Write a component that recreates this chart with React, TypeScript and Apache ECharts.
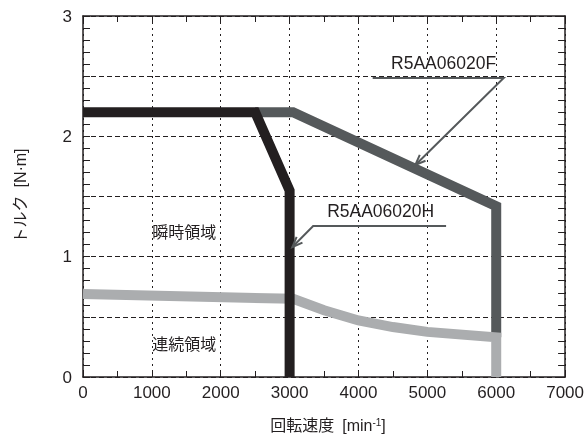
import React, { useEffect, useRef } from "react";
import * as echarts from "echarts";

// Axis ranges
const X_MIN = 0;
const X_MAX = 7000;
const X_STEP = 1000;
const Y_MIN = 0;
const Y_MAX = 3;
const Y_STEP = 0.5;
const yTickLabels = [0, 1, 2, 3];

// Series: [speed min-1, torque N·m]
const peakH: [number, number][] = [
  [0, 2.2],
  [2500, 2.2],
  [3000, 1.55],
  [3000, 0],
];
const peakF: [number, number][] = [
  [2500, 2.2],
  [3050, 2.2],
  [6000, 1.42],
  [6000, 0.33],
];
const continuous: [number, number][] = [
  [0, 0.69],
  [3050, 0.65],
  [3500, 0.555],
  [4000, 0.47],
  [4500, 0.415],
  [5000, 0.375],
  [6000, 0.33],
  [6000, 0],
];

// Annotation anchors (data coordinates)
const noteF = { text: "R5AA06020F", at: [5236, 2.61], lineFrom: [4206, 2.485], elbow: [6108, 2.485], tip: [4826, 1.762] };
const noteH = { text: "R5AA06020H", at: [4322, 1.377], lineFrom: [5272, 1.255], elbow: [3342, 1.255], tip: [3040, 1.08] };
const regionPeak = { text: "瞬時領域", at: [1469, 1.197] };
const regionCont = { text: "連続領域", at: [1469, 0.266] };

const INK = "#231f20";
const DARK = "#55595b";
const LIGHT = "#abadaf";
const FONT = "'Liberation Sans', Arial, 'Noto Sans CJK JP', sans-serif";

export default function App() {
  const ref = useRef<HTMLDivElement>(null);
  useEffect(() => {
    const chart = echarts.init(ref.current!, null, { renderer: "svg" });
    const axisLine = { show: true, onZero: false, lineStyle: { color: INK, width: 1.5 } };
    const xBase = {
      type: "value",
      min: X_MIN,
      max: X_MAX,
      interval: X_STEP,
      axisLine,
      axisTick: { show: true, inside: true, length: 6, lineStyle: { color: INK, width: 1 } },
      minorTick: { show: true, splitNumber: 2, length: 6, lineStyle: { color: INK, width: 1 } },
    };
    const yBase = {
      type: "value",
      min: Y_MIN,
      max: Y_MAX,
      interval: Y_STEP,
      axisLine,
      axisTick: { show: true, inside: true, length: 7, lineStyle: { color: INK, width: 1 } },
      minorTick: { show: true, splitNumber: 5, length: 7, lineStyle: { color: INK, width: 1 } },
    };
    const lineSeries = (data: [number, number][], color: string, z: number) => ({
      type: "line",
      data,
      showSymbol: false,
      symbol: "none",
      silent: true,
      z,
      lineStyle: { color, width: 10, cap: "butt", join: "miter" },
    });
    chart.setOption({
      animation: false,
      grid: { left: 83, right: 18, top: 16, bottom: 57 },
      xAxis: [
        {
          ...xBase,
          position: "bottom",
          axisLabel: { color: INK, fontSize: 17, fontFamily: FONT, margin: 7, formatter: (v: number) => String(v) },
          splitLine: { show: true, lineStyle: { color: INK, width: 1, type: [2, 4] } },
        },
        { ...xBase, position: "top", axisLabel: { show: false }, splitLine: { show: false } },
      ],
      yAxis: [
        {
          ...yBase,
          position: "left",
          axisLabel: {
            color: INK,
            fontSize: 17,
            fontFamily: FONT,
            margin: 11,
            formatter: (v: number) => (yTickLabels.includes(v) ? String(v) : ""),
          },
          splitLine: { show: true, lineStyle: { color: INK, width: 1, type: [5, 3] } },
        },
        { ...yBase, position: "right", axisLabel: { show: false }, splitLine: { show: false } },
      ],
      series: [lineSeries(peakF, DARK, 2), lineSeries(continuous, LIGHT, 3), lineSeries(peakH, INK, 4)],
    });

    const px = (p: number[]) => chart.convertToPixel({ xAxisIndex: 0, yAxisIndex: 0 }, p) as number[];
    const textEl = (text: string, p: number[], size: number, extra: any = {}) => ({
      type: "text",
      x: p[0],
      y: p[1],
      z: 10,
      ...extra,
      style: {
        text,
        fill: INK,
        fontSize: size,
        fontFamily: FONT,
        align: "center",
        verticalAlign: "middle",
        textAlign: "center",
        textVerticalAlign: "middle",
      },
    });
    const note = (n: any) => {
      const a = px(n.lineFrom);
      const e = px(n.elbow);
      const t = px(n.tip);
      const ang = Math.atan2(e[1] - t[1], e[0] - t[0]);
      const L = 11;
      const s = 0.38;
      const h1 = [t[0] + L * Math.cos(ang + s), t[1] + L * Math.sin(ang + s)];
      const h2 = [t[0] + L * Math.cos(ang - s), t[1] + L * Math.sin(ang - s)];
      const st = { stroke: DARK, lineWidth: 2, fill: "none" };
      return [
        textEl(n.text, px(n.at), 17.5),
        { type: "polyline", z: 10, shape: { points: [a, e, t] }, style: st },
        { type: "polyline", z: 10, shape: { points: [h1, t, h2] }, style: st },
      ];
    };
    chart.setOption({
      graphic: [
        ...note(noteF),
        ...note(noteH),
        textEl(regionPeak.text, px(regionPeak.at), 16),
        textEl(regionCont.text, px(regionCont.at), 16),
        textEl("トルク\u2002[N·m]", [20, 196], 16, { rotation: Math.PI / 2 }),
        {
          type: "text",
          x: 328,
          y: 425,
          z: 10,
          style: {
            text: "{a|回転速度\u2002[min}{s|-1}{a|]}",
            align: "center",
            verticalAlign: "middle",
            textAlign: "center",
            textVerticalAlign: "middle",
            fill: INK,
            fontFamily: FONT,
            fontSize: 16,
            rich: {
              a: { fontSize: 16, fontFamily: FONT, fill: INK },
              s: { fontSize: 10, fontFamily: FONT, fill: INK, verticalAlign: "top" },
            },
          },
        },
      ],
    });
    return () => chart.dispose();
  }, []);
  return <div ref={ref} style={{ position: "fixed", left: 0, top: 0, width: 587, height: 434 }} />;
}
